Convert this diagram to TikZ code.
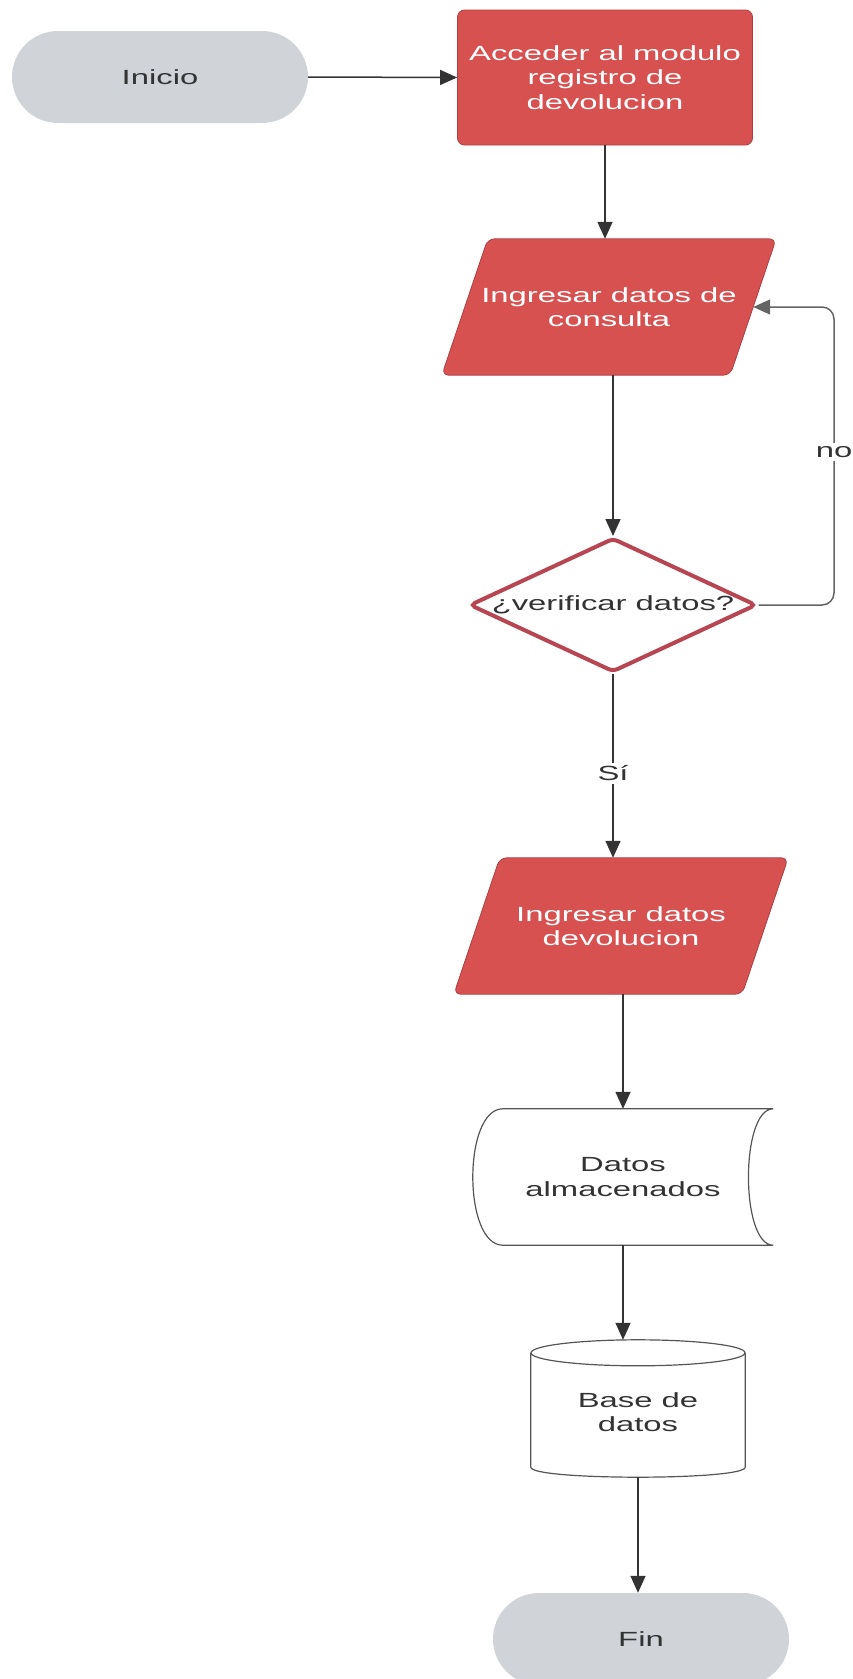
\documentclass[tikz,border=0pt]{standalone}
\usepackage{fontspec}
\setmainfont{Liberation Sans}[FakeStretch=1.6]
\usetikzlibrary{arrows.meta,shapes.geometric,calc}
\pgfdeclarelayer{bg}
\pgfsetlayers{bg,main}

\definecolor{redfill}{RGB}{214,81,80}
\definecolor{redline}{RGB}{175,62,66}
\definecolor{termgray}{RGB}{208,212,216}
\definecolor{diaborder}{RGB}{184,70,82}
\definecolor{txtdark}{RGB}{51,51,51}
\definecolor{linecol}{RGB}{51,51,51}
\definecolor{loopcol}{RGB}{100,100,100}
\definecolor{shapeline}{RGB}{85,85,85}

\begin{document}
\begin{tikzpicture}[x=1pt,y=-1pt,
  every node/.style={font=\fontsize{20.5}{24.5}\selectfont},
  term/.style={fill=termgray, rounded corners=46pt, minimum width=296pt, minimum height=92pt, text=txtdark, inner sep=0pt},
  proc/.style={fill=redfill, draw=redline, line width=0.8pt, rounded corners=7pt, minimum width=295pt, minimum height=135pt, text=white, align=center},
  io/.style={text=white, align=center, inner sep=0pt, minimum width=334pt, minimum height=136pt},
  iobox/.style={fill=redfill, draw=redline, line width=0.8pt, rounded corners=7pt},
  decision/.style={diamond, aspect=2.14, fill=white, draw=diaborder, line width=4pt, rounded corners=5pt, minimum width=287pt, minimum height=134pt, inner sep=0pt, text=txtdark},
  plain/.style={text=txtdark, align=center, inner sep=0pt},
  sdline/.style={draw=shapeline, line width=1.2pt},
  arr/.style={draw=linecol, line width=1.5pt, -{Triangle[length=17pt,width=15pt]}},
  lbl/.style={fill=white, text=txtdark, inner sep=3pt}
]
\useasboundingbox (0,0) rectangle (852,1679);

\node[term] (ini) at (160,77) {Inicio};
\node[proc] (acc) at (605,77.5) {Acceder al modulo\\registro de\\devolucion};

% input/output parallelograms
\node[io] (p1) at (609,307) {Ingresar datos de\\consulta};
\node[io] (p2) at (621,926) {Ingresar datos\\devolucion};
\begin{pgfonlayer}{bg}
\draw[iobox] ($(p1.north west)+(46,0)$) -- (p1.north east) -- ($(p1.south east)+(-46,0)$) -- (p1.south west) -- cycle;
\draw[iobox] ($(p2.north west)+(46,0)$) -- (p2.north east) -- ($(p2.south east)+(-46,0)$) -- (p2.south west) -- cycle;
\end{pgfonlayer}
\coordinate (p1r) at ($(p1.east)+(-23,0)$);

\node[decision] (dia) at (613,605) {¿verificar datos?};

% stored data
\node[plain, minimum width=300pt, minimum height=136pt] (sd) at (623,1177) {Datos\\almacenados};
\draw[sdline] ($(sd.north west)+(30,0)$) -- (sd.north east)
  .. controls ($(sd.north east)+(-33,0)$) and ($(sd.south east)+(-33,0)$) .. (sd.south east)
  -- ($(sd.south west)+(30,0)$)
  .. controls ($(sd.south west)+(-10,0)$) and ($(sd.north west)+(-10,0)$) .. cycle;

% database cylinder
\node[plain, minimum width=214pt, minimum height=137pt] (db) at (638,1408.5) {};
\draw[sdline] ($(db.north west)+(0,13)$) -- ($(db.south west)+(0,-10)$)
  .. controls ($(db.south west)+(0,3.3)$) and ($(db.south east)+(0,3.3)$) .. ($(db.south east)+(0,-10)$)
  -- ($(db.north east)+(0,13)$);
\draw[sdline] ($(db.north)+(0,13)$) ellipse [x radius=107pt, y radius=13pt];
\node[plain] (dbt) at (638,1412) {Base de\\datos};

\node[term] (fin) at (641,1639) {Fin};

% connectors
\draw[arr] (ini.east) -- (acc.west);
\draw[arr] (acc.south) -- (acc.south |- p1.north);
\draw[arr] (dia.north |- p1.south) -- (dia.north);
\draw[arr] (dia.south) -- node[lbl, pos=0.54] (si) {Sí} (dia.south |- p2.north);
\draw[arr] (sd.north |- p2.south) -- (sd.north);
\draw[arr] (sd.south) -- (sd.south |- db.north);
\draw[arr] (db.south) -- (db.south |- fin.north);

\coordinate (lx) at (834,0);
\draw[arr, draw=loopcol, rounded corners=12pt] (dia.east) -- (dia.east -| lx) -- (lx |- p1r) -- (p1r);
\node[lbl] (no) at (834,452) {no};
\end{tikzpicture}
\end{document}
